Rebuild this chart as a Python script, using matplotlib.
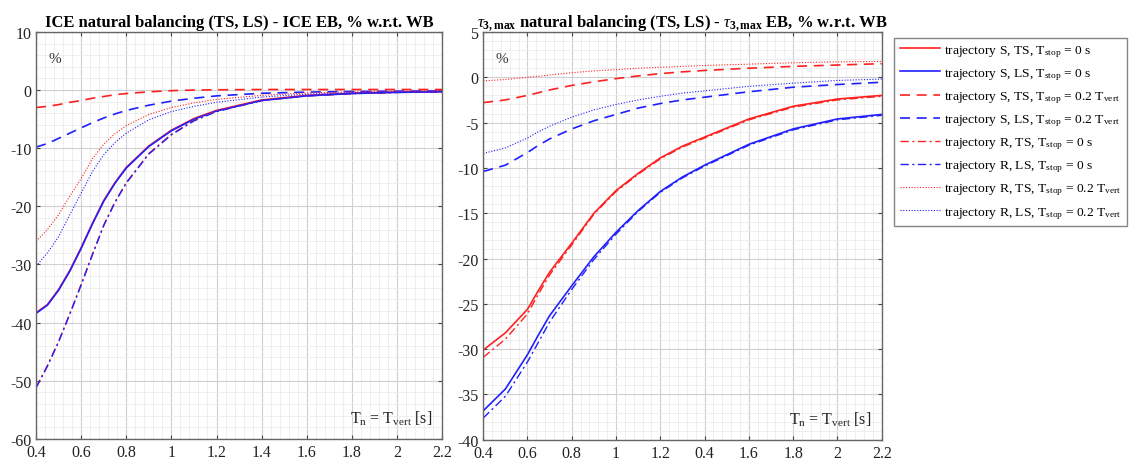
import numpy as np
import matplotlib
matplotlib.use('Agg')
import matplotlib.pyplot as plt
from matplotlib.ticker import MultipleLocator, FixedLocator, FixedFormatter

plt.rcParams['font.family'] = ['Liberation Serif', 'DejaVu Serif']
plt.rcParams['mathtext.fontset'] = 'custom'
plt.rcParams['mathtext.rm'] = 'Liberation Serif'
plt.rcParams['mathtext.it'] = 'Liberation Serif:italic'
plt.rcParams['mathtext.bf'] = 'Liberation Serif:bold'
plt.rcParams['axes.unicode_minus'] = False

# ---- left panel: ICE ----
x_ice = [0.4, 0.45, 0.5, 0.55, 0.6, 0.65, 0.7, 0.75, 0.8, 0.9, 1.0, 1.1, 1.2, 1.4, 1.6, 1.8, 2.0, 2.2]
ice_s_ts = [-38.3, -36.9, -34.3, -31.0, -27.1, -22.9, -19.0, -15.9, -13.3, -9.6, -6.9, -4.9, -3.5, -1.7, -0.9, -0.55, -0.35, -0.25]
ice_s_ls = [-38.4, -37.0, -34.4, -31.1, -27.2, -23.0, -19.1, -16.0, -13.4, -9.7, -7.0, -5.0, -3.6, -1.8, -1.0, -0.6, -0.4, -0.3]
ice_s_ts_stop = [-3.0, -2.8, -2.5, -2.1, -1.8, -1.4, -1.1, -0.8, -0.6, -0.3, -0.1, 0.0, 0.05, 0.1, 0.1, 0.1, 0.1, 0.1]
ice_s_ls_stop = [-9.8, -9.2, -8.3, -7.4, -6.5, -5.6, -4.8, -4.1, -3.5, -2.6, -1.9, -1.4, -1.0, -0.55, -0.35, -0.25, -0.2, -0.15]
ice_r_ts = [-51.1, -47.4, -43.2, -38.4, -33.4, -28.2, -23.2, -19.2, -15.9, -10.9, -7.6, -5.2, -3.6, -1.8, -1.0, -0.6, -0.4, -0.3]
ice_r_ls = [-51.2, -47.5, -43.3, -38.5, -33.5, -28.3, -23.3, -19.3, -16.0, -11.0, -7.7, -5.3, -3.7, -1.8, -1.0, -0.6, -0.4, -0.3]
ice_r_ts_stop = [-26.0, -24.0, -21.4, -18.2, -15.2, -11.8, -9.3, -7.5, -6.1, -4.2, -3.0, -2.2, -1.6, -0.9, -0.5, -0.3, -0.2, -0.15]
ice_r_ls_stop = [-30.3, -28.0, -25.2, -21.4, -17.7, -14.0, -11.1, -9.0, -7.4, -5.1, -3.7, -2.8, -2.1, -1.2, -0.7, -0.45, -0.3, -0.2]

# ---- right panel: tau_3,max ----
x_tau = [0.4, 0.5, 0.6, 0.65, 0.7, 0.8, 0.9, 1.0, 1.1, 1.2, 1.3, 1.4, 1.6, 1.8, 2.0, 2.2]
tau_s_ts = [-30.1, -28.2, -25.6, -23.5, -21.5, -18.3, -15.0, -12.5, -10.6, -8.9, -7.6, -6.6, -4.6, -3.2, -2.4, -2.0]
tau_s_ls = [-36.8, -34.4, -30.6, -28.4, -26.3, -23.0, -19.8, -17.1, -14.7, -12.6, -11.0, -9.7, -7.4, -5.7, -4.6, -4.1]
tau_s_ts_stop = [-2.8, -2.5, -2.0, -1.7, -1.4, -0.9, -0.5, -0.15, 0.15, 0.4, 0.6, 0.75, 1.0, 1.2, 1.35, 1.5]
tau_s_ls_stop = [-10.4, -9.7, -8.3, -7.5, -6.8, -5.7, -4.8, -4.1, -3.4, -2.9, -2.5, -2.2, -1.6, -1.1, -0.8, -0.55]
tau_r_ts = [-30.9, -28.9, -26.1, -23.9, -21.8, -18.5, -15.1, -12.6, -10.7, -9.0, -7.7, -6.7, -4.7, -3.3, -2.5, -2.1]
tau_r_ls = [-37.6, -35.2, -31.4, -29.2, -27.0, -23.4, -20.1, -17.3, -14.8, -12.7, -11.1, -9.8, -7.5, -5.8, -4.7, -4.2]
tau_r_ts_stop = [-0.4, -0.25, 0.0, 0.1, 0.25, 0.5, 0.7, 0.85, 1.0, 1.1, 1.2, 1.3, 1.45, 1.6, 1.7, 1.75]
tau_r_ls_stop = [-8.4, -7.8, -6.7, -6.0, -5.4, -4.4, -3.6, -3.0, -2.5, -2.1, -1.75, -1.5, -1.0, -0.65, -0.35, -0.2]

labels = [
    'trajectory S, TS, T$_{\\rm stop}$ = 0 s',
    'trajectory S, LS, T$_{\\rm stop}$ = 0 s',
    'trajectory S, TS, T$_{\\rm stop}$ = 0.2 T$_{\\rm vert}$',
    'trajectory S, LS, T$_{\\rm stop}$ = 0.2 T$_{\\rm vert}$',
    'trajectory R, TS, T$_{\\rm stop}$ = 0 s',
    'trajectory R, LS, T$_{\\rm stop}$ = 0 s',
    'trajectory R, TS, T$_{\\rm stop}$ = 0.2 T$_{\\rm vert}$',
    'trajectory R, LS, T$_{\\rm stop}$ = 0.2 T$_{\\rm vert}$',
]
x_ticks = [0.4, 0.6, 0.8, 1.0, 1.2, 1.4, 1.6, 1.8, 2.0, 2.2]
x_labels_left = ['0.4', '0.6', '0.8', '1', '1.2', '1.4', '1.6', '1.8', '2', '2.2']
x_labels_right = ['0.4', '0.6', '0.8', '1', '1.2', '0.4', '1.6', '1.8', '2', '2.2']

RED = '#ff2020'
BLUE = '#2020ff'
styles = [
    dict(color=RED, ls='-', lw=1.2),
    dict(color=BLUE, ls='-', lw=1.2),
    dict(color=RED, ls=(0, (6, 4)), lw=1.2),
    dict(color=BLUE, ls=(0, (6, 4)), lw=1.2),
    dict(color=RED, ls=(0, (6, 2.5, 1.5, 2.5)), lw=1.0),
    dict(color=BLUE, ls=(0, (6, 2.5, 1.5, 2.5)), lw=1.0),
    dict(color=RED, ls=(0, (1, 1.5)), lw=0.8),
    dict(color=BLUE, ls=(0, (1, 1.5)), lw=0.8),
]

fig = plt.figure(figsize=(11.29, 4.64), dpi=100)
ax1 = fig.add_axes([0.032, 0.052, 0.3595, 0.877])
ax2 = fig.add_axes([0.428, 0.050, 0.353, 0.879])


def style_axes(ax, ylim, ymajor, yminor, xlabels):
    ax.set_xlim(0.4, 2.2)
    ax.set_ylim(*ylim)
    ax.xaxis.set_major_locator(FixedLocator(x_ticks))
    ax.xaxis.set_major_formatter(FixedFormatter(xlabels))
    ax.xaxis.set_minor_locator(MultipleLocator(0.04))
    ax.yaxis.set_major_locator(MultipleLocator(ymajor))
    ax.yaxis.set_minor_locator(MultipleLocator(yminor))
    ax.grid(which='major', color='#d0d0d0', lw=0.8)
    ax.grid(which='minor', color='#ececec', lw=0.6)
    ax.set_axisbelow(True)
    ax.tick_params(which='both', direction='in', top=True, right=True,
                   colors='#444444', labelsize=11.5, labelcolor='#222222')
    ax.tick_params(which='minor', length=0)
    ax.tick_params(which='major', length=3)
    for s in ax.spines.values():
        s.set_color('#666666')
        s.set_linewidth(1.0)
    ax.text(0.03, 0.95, '%', transform=ax.transAxes, fontsize=11,
            color='#333333', va='top', ha='left')
    ax.text(0.975, 0.03, 'T$_{\\rm n}$ = T$_{\\rm vert}$ [s]', transform=ax.transAxes,
            fontsize=11.5, color='#222222', va='bottom', ha='right')


ice_series = [ice_s_ts, ice_s_ls, ice_s_ts_stop, ice_s_ls_stop,
              ice_r_ts, ice_r_ls, ice_r_ts_stop, ice_r_ls_stop]
tau_series = [tau_s_ts, tau_s_ls, tau_s_ts_stop, tau_s_ls_stop,
              tau_r_ts, tau_r_ls, tau_r_ts_stop, tau_r_ls_stop]

handles = []
for y, st in zip(ice_series, styles):
    ax1.plot(x_ice, y, **st)
for y, st, lab in zip(tau_series, styles, labels):
    h, = ax2.plot(x_tau, y, label=lab, **st)
    handles.append(h)

style_axes(ax1, (-60, 10), 10, 2, x_labels_left)
style_axes(ax2, (-40, 5), 5, 1, x_labels_right)

ax1.set_title('ICE natural balancing (TS, LS) - ICE EB, % w.r.t. WB',
              fontsize=12, fontweight='bold', pad=4)
ax2.set_title('$\\tau_{\\mathbf{3,max}}$ natural balancing (TS, LS) - $\\tau_{\\mathbf{3,max}}$ EB, % w.r.t. WB',
              fontsize=12, fontweight='bold', pad=4)

leg = fig.legend(handles=handles, labels=labels, loc='upper left',
                 bbox_to_anchor=(0.786, 0.931), fontsize=9.7, frameon=True,
                 fancybox=False, edgecolor='#666666', handlelength=3.0,
                 labelspacing=0.55, borderpad=0.4, handletextpad=0.3)
leg.get_frame().set_linewidth(1.0)

fig.savefig('out.png', dpi=100)
